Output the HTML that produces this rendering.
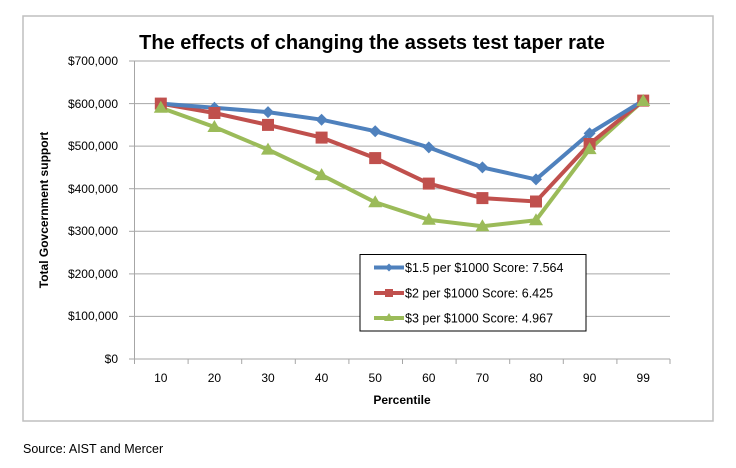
<!DOCTYPE html>
<html><head><meta charset="utf-8"><style>
html,body{margin:0;padding:0;background:#fff;}
svg{display:block;font-family:"Liberation Sans",sans-serif;}
</style></head><body>
<svg width="736" height="468" viewBox="0 0 736 468" xmlns="http://www.w3.org/2000/svg">
<rect x="23" y="16" width="690" height="405" fill="#fff" stroke="#bfbfbf" stroke-width="1.5"/>
<text x="372" y="49" text-anchor="middle" font-size="20" font-weight="bold" fill="#000">The effects of changing the assets test taper rate</text>
<g stroke="#a6a6a6" stroke-width="1">
<line x1="134.5" y1="61" x2="670" y2="61"/>
<line x1="134.5" y1="103.6" x2="670" y2="103.6"/>
<line x1="134.5" y1="146.1" x2="670" y2="146.1"/>
<line x1="134.5" y1="188.7" x2="670" y2="188.7"/>
<line x1="134.5" y1="231.3" x2="670" y2="231.3"/>
<line x1="134.5" y1="273.9" x2="670" y2="273.9"/>
<line x1="134.5" y1="316.4" x2="670" y2="316.4"/>
<line x1="134.5" y1="61" x2="134.5" y2="359"/>
<line x1="129" y1="359" x2="670" y2="359"/>
<line x1="129" y1="61" x2="134.5" y2="61"/><line x1="129" y1="103.6" x2="134.5" y2="103.6"/><line x1="129" y1="146.1" x2="134.5" y2="146.1"/><line x1="129" y1="188.7" x2="134.5" y2="188.7"/><line x1="129" y1="231.3" x2="134.5" y2="231.3"/><line x1="129" y1="273.9" x2="134.5" y2="273.9"/><line x1="129" y1="316.4" x2="134.5" y2="316.4"/>
<line x1="134.5" y1="359" x2="134.5" y2="364"/><line x1="188.1" y1="359" x2="188.1" y2="364"/><line x1="241.7" y1="359" x2="241.7" y2="364"/><line x1="295.3" y1="359" x2="295.3" y2="364"/><line x1="348.9" y1="359" x2="348.9" y2="364"/><line x1="402.5" y1="359" x2="402.5" y2="364"/><line x1="456.1" y1="359" x2="456.1" y2="364"/><line x1="509.7" y1="359" x2="509.7" y2="364"/><line x1="563.3" y1="359" x2="563.3" y2="364"/><line x1="616.9" y1="359" x2="616.9" y2="364"/><line x1="670" y1="359" x2="670" y2="364"/>
</g>
<g font-size="12" fill="#000" text-anchor="end">
<text x="118" y="65">$700,000</text><text x="118" y="108">$600,000</text><text x="118" y="150">$500,000</text><text x="118" y="193">$400,000</text><text x="118" y="235">$300,000</text><text x="118" y="278">$200,000</text><text x="118" y="320">$100,000</text><text x="118" y="363">$0</text>
</g>
<g font-size="12" fill="#000" text-anchor="middle">
<text x="160.8" y="382">10</text><text x="214.4" y="382">20</text><text x="268" y="382">30</text><text x="321.6" y="382">40</text><text x="375.2" y="382">50</text><text x="428.8" y="382">60</text><text x="482.4" y="382">70</text><text x="536" y="382">80</text><text x="589.6" y="382">90</text><text x="643.2" y="382">99</text>
</g>
<text x="402" y="404" text-anchor="middle" font-size="12" font-weight="bold">Percentile</text>
<text transform="translate(48,210) rotate(-90)" text-anchor="middle" font-size="12" font-weight="bold">Total Govcernment support</text>
<polyline fill="none" stroke="#9BBB59" stroke-width="4" points="160.8,107.8 214.4,127 268,149.6 321.6,175.1 375.2,202.3 428.8,219.8 482.4,226.2 536,220.2 589.6,149.1 643.2,100.6"/>
<polyline fill="none" stroke="#C0504D" stroke-width="4" points="160.8,103.6 214.4,113 268,124.9 321.6,137.6 375.2,158.1 428.8,183.6 482.4,198.1 536,201.5 589.6,144 643.2,100.6"/>
<polyline fill="none" stroke="#4F81BD" stroke-width="4" points="160.8,103.6 214.4,107.8 268,112.1 321.6,119.7 375.2,131.2 428.8,147.4 482.4,167.4 536,179.4 589.6,133.4 643.2,100.6"/>
<g fill="#4F81BD">
<path d="M160.8,97.6 l6,6 -6,6 -6,-6z"/><path d="M214.4,101.8 l6,6 -6,6 -6,-6z"/><path d="M268,106.1 l6,6 -6,6 -6,-6z"/><path d="M321.6,113.7 l6,6 -6,6 -6,-6z"/><path d="M375.2,125.2 l6,6 -6,6 -6,-6z"/><path d="M428.8,141.4 l6,6 -6,6 -6,-6z"/><path d="M482.4,161.4 l6,6 -6,6 -6,-6z"/><path d="M536,173.4 l6,6 -6,6 -6,-6z"/><path d="M589.6,127.4 l6,6 -6,6 -6,-6z"/><path d="M643.2,94.6 l6,6 -6,6 -6,-6z"/>
</g>
<g fill="#C0504D">
<rect x="154.8" y="97.6" width="12" height="12"/><rect x="208.4" y="107" width="12" height="12"/><rect x="262" y="118.9" width="12" height="12"/><rect x="315.6" y="131.6" width="12" height="12"/><rect x="369.2" y="152.1" width="12" height="12"/><rect x="422.8" y="177.6" width="12" height="12"/><rect x="476.4" y="192.1" width="12" height="12"/><rect x="530" y="195.5" width="12" height="12"/><rect x="583.6" y="138" width="12" height="12"/><rect x="637.2" y="94.6" width="12" height="12"/>
</g>
<g fill="#9BBB59">
<path d="M160.8,100.8 l7,12 h-14z"/><path d="M214.4,120 l7,12 h-14z"/><path d="M268,142.6 l7,12 h-14z"/><path d="M321.6,168.1 l7,12 h-14z"/><path d="M375.2,195.3 l7,12 h-14z"/><path d="M428.8,212.8 l7,12 h-14z"/><path d="M482.4,219.2 l7,12 h-14z"/><path d="M536,213.2 l7,12 h-14z"/><path d="M589.6,142.1 l7,12 h-14z"/><path d="M643.2,94 l7,12 h-14z"/>
</g>
<rect x="360" y="254.5" width="226" height="76.5" fill="#fff" stroke="#000" stroke-width="1"/>
<g stroke-width="4">
<line x1="374" y1="267.5" x2="404" y2="267.5" stroke="#4F81BD"/>
<line x1="374" y1="293" x2="404" y2="293" stroke="#C0504D"/>
<line x1="374" y1="318" x2="404" y2="318" stroke="#9BBB59"/>
</g>
<path d="M389,263.5 l4,4 -4,4 -4,-4z" fill="#4F81BD"/>
<rect x="385" y="289" width="8" height="8" fill="#C0504D"/>
<path d="M389,313 l5,8 h-10z" fill="#9BBB59"/>
<g font-size="12.5" fill="#000">
<text x="405" y="272">$1.5 per $1000 Score: 7.564</text>
<text x="405" y="297.5">$2 per $1000 Score: 6.425</text>
<text x="405" y="322.5">$3 per $1000 Score: 4.967</text>
</g>
<text x="23" y="453" font-size="12.5" fill="#000">Source: AIST and Mercer</text>
</svg>
</body></html>
